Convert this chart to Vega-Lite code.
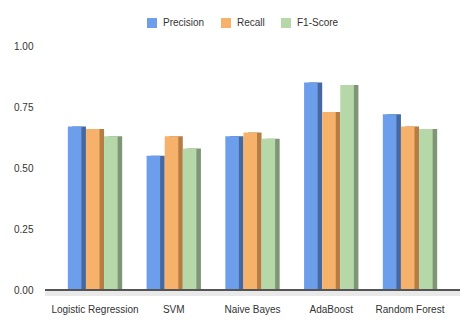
{
  "$schema": "https://vega.github.io/schema/vega-lite/v6.json",
  "autosize": "none",
  "width": 415,
  "height": 244,
  "padding": {"left": 45, "top": 46, "right": 14, "bottom": 43},
  "background": "white",
  "config": {
    "font": "Liberation Sans",
    "view": {"stroke": null},
    "axis": {"labelFont": "Liberation Sans", "labelFontSize": 10, "labelColor": "#333333"}
  },
  "data": {
    "values": [
      {"model": "Logistic Regression", "metric": "Precision", "value": 0.67},
      {"model": "Logistic Regression", "metric": "Recall", "value": 0.66},
      {"model": "Logistic Regression", "metric": "F1-Score", "value": 0.63},
      {"model": "SVM", "metric": "Precision", "value": 0.55},
      {"model": "SVM", "metric": "Recall", "value": 0.63},
      {"model": "SVM", "metric": "F1-Score", "value": 0.58},
      {"model": "Naive Bayes", "metric": "Precision", "value": 0.63},
      {"model": "Naive Bayes", "metric": "Recall", "value": 0.645},
      {"model": "Naive Bayes", "metric": "F1-Score", "value": 0.62},
      {"model": "AdaBoost", "metric": "Precision", "value": 0.85},
      {"model": "AdaBoost", "metric": "Recall", "value": 0.73},
      {"model": "AdaBoost", "metric": "F1-Score", "value": 0.84},
      {"model": "Random Forest", "metric": "Precision", "value": 0.72},
      {"model": "Random Forest", "metric": "Recall", "value": 0.67},
      {"model": "Random Forest", "metric": "F1-Score", "value": 0.66}
    ]
  },
  "layer": [
    {
      "mark": {"type": "rect", "color": "#e9e9e9"},
      "encoding": {"y": {"datum": 0, "type": "quantitative"}, "y2": {"datum": -0.025}}
    },
    {
      "mark": {"type": "bar"},
      "encoding": {
        "x": {"field": "model", "type": "nominal", "sort": null,
              "scale": {"paddingInner": 0.31, "paddingOuter": 0.29},
              "axis": {"title": null, "domain": false, "ticks": false, "labelAngle": 0, "labelPadding": 14}},
        "xOffset": {"field": "metric", "type": "nominal", "sort": ["Precision", "Recall", "F1-Score"],
                    "scale": {"paddingInner": 0.25, "paddingOuter": 0.125, "align": 1}},
        "y": {"field": "value", "type": "quantitative",
              "scale": {"domain": [0, 1]},
              "axis": {"title": null, "values": [0, 0.25, 0.5, 0.75, 1], "format": ".2f",
                       "domain": false, "ticks": false, "labelPadding": 12, "gridColor": "#d0d0d0"}},
        "color": {"field": "metric", "type": "nominal", "sort": ["Precision", "Recall", "F1-Score"],
                  "scale": {"domain": ["Precision", "Recall", "F1-Score"], "range": ["#46679f", "#b57d44", "#7f9676"]},
                  "legend": null}
      }
    },
    {
      "mark": {"type": "bar"},
      "encoding": {
        "x": {"field": "model", "type": "nominal", "sort": null},
        "xOffset": {"field": "metric", "type": "nominal", "sort": ["Precision", "Recall", "F1-Score"],
                    "scale": {"paddingInner": 0.25, "paddingOuter": 0.125, "align": 0}},
        "y": {"field": "value", "type": "quantitative"},
        "color": {"field": "metric", "type": "nominal", "sort": ["Precision", "Recall", "F1-Score"],
                  "scale": {"domain": ["Precision", "Recall", "F1-Score"], "range": ["#6d9eeb", "#f6b26b", "#b6d7a8"]},
                  "legend": {"title": null, "orient": "none", "direction": "horizontal",
                             "legendX": 102, "legendY": -28, "symbolType": "square", "symbolSize": 100,
                             "symbolStrokeWidth": 0, "labelFont": "Liberation Sans", "labelFontSize": 10,
                             "labelColor": "#333333", "labelOffset": 6, "columnPadding": 16, "gridAlign": "none"}}
      }
    },
    {
      "mark": {"type": "rule", "color": "#555555", "strokeWidth": 1},
      "encoding": {"y": {"datum": 0, "type": "quantitative"}}
    }
  ],
  "resolve": {"scale": {"xOffset": "independent", "color": "independent"}}
}
